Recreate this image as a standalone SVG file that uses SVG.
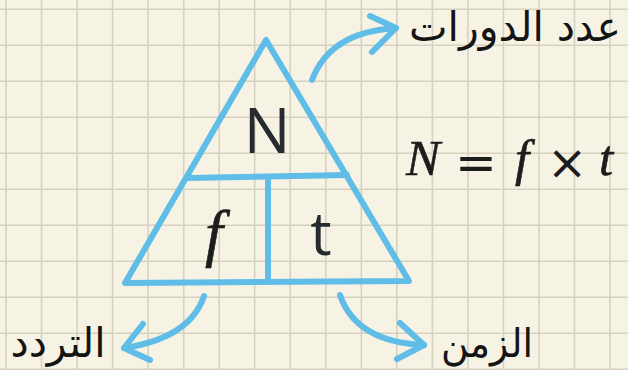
<svg xmlns="http://www.w3.org/2000/svg" width="628" height="370" viewBox="0 0 628 370">
<style>
.grid{stroke:#d7d1bf;stroke-width:1.6;fill:none}
.blue{stroke:#5fbde8;stroke-width:6;fill:none;stroke-linecap:round;stroke-linejoin:round}
.sym{font-family:"Open Sans","Noto Sans",sans-serif;fill:#262b30}
.math{font-family:"Liberation Serif","DejaVu Serif",serif;font-style:italic;fill:#1c1c1c;stroke:#1c1c1c;stroke-width:0.6}
.mop{font-family:"DejaVu Sans","Liberation Sans",sans-serif;fill:#1c1c1c}
.ar{font-family:"DejaVu Sans",sans-serif;fill:#141414}
</style>
<rect width="628" height="370" fill="#f6f3e5"/>
<path class="grid" d="M6,0V370M41.5,0V370M77.1,0V370M112.6,0V370M148.1,0V370M183.7,0V370M219.2,0V370M254.7,0V370M290.2,0V370M325.8,0V370M361.3,0V370M396.8,0V370M432.4,0V370M467.9,0V370M503.4,0V370M539,0V370M574.5,0V370M610,0V370M0,9.3H628M0,45.3H628M0,81.3H628M0,117.3H628M0,153.3H628M0,189.3H628M0,225.3H628M0,261.3H628M0,297.3H628M0,333.3H628M0,369.3H628"/>
<g id="triangle">
<path class="blue" d="M266,40L125,283L409,281Z"/>
<path class="blue" d="M187,178L347,175"/>
<path class="blue" d="M268,178L268,281"/>
</g>
<g id="node-N"><text class="sym" x="267" y="153" font-size="62" text-anchor="middle">N</text></g>
<g id="node-f"><text class="math" x="214" y="254" font-size="64" text-anchor="middle" fill="#262b30" stroke="#262b30" stroke-width="1">f</text></g>
<g id="node-t"><text class="sym" x="321" y="255" font-size="60" text-anchor="middle">t</text></g>
<g id="formula">
<text class="math" x="406" y="175" font-size="51">N</text>
<text class="mop" x="476" y="180" font-size="50" text-anchor="middle">=</text>
<text class="math" x="522" y="175" font-size="51" text-anchor="middle">f</text>
<text class="mop" x="567" y="179" font-size="48" text-anchor="middle">×</text>
<text class="math" x="606" y="175" font-size="51" text-anchor="middle">t</text>
</g>
<g id="label-cycles"><text class="ar" x="515" y="41" font-size="41" text-anchor="middle" direction="rtl" textLength="212" lengthAdjust="spacingAndGlyphs">عدد الدورات</text></g>
<g id="label-frequency"><text class="ar" x="58" y="357" font-size="41" text-anchor="middle" direction="rtl" textLength="95" lengthAdjust="spacingAndGlyphs">التردد</text></g>
<g id="label-time"><text class="ar" x="487" y="357" font-size="40" text-anchor="middle" direction="rtl" textLength="92" lengthAdjust="spacingAndGlyphs">الزمن</text></g>
<g id="connectors">
<path class="blue" d="M312,80Q330,32 396,28"/>
<path class="blue" d="M370,16L396,28L372,52"/>
<path class="blue" d="M204,296Q190,338 124,348"/>
<path class="blue" d="M143,324L124,348L150,360"/>
<path class="blue" d="M340,295Q356,342 424,345"/>
<path class="blue" d="M400,323L424,345L397,359"/>
</g>
</svg>
